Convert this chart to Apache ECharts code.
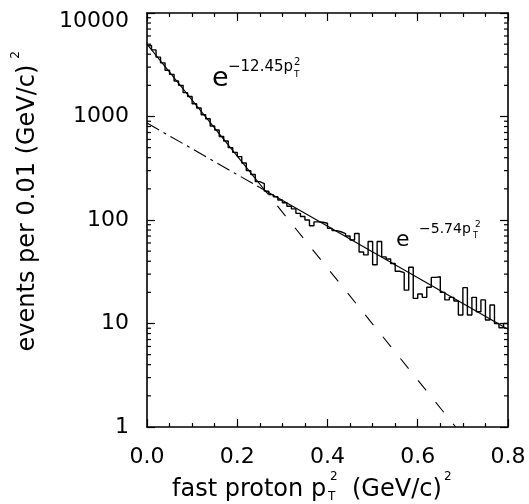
<!DOCTYPE html>
<html>
<head>
<meta charset="utf-8">
<script src="https://cdn.jsdelivr.net/npm/echarts@6/dist/echarts.min.js"></script>
<style>
html,body{margin:0;padding:0;background:#fff;}
#chart{width:529px;height:504px;}
</style>
</head>
<body>
<div id="chart"></div>
<script>
// ---- data ----
const binWidth = 0.01;
const counts = [
  4850, 4400, 3750, 3300, 2800, 2550, 2200, 2000, 1700, 1560,
  1330, 1210, 1040, 950, 810, 740, 640, 580, 500, 450,
  410, 355, 300, 275, 235, 225, 190, 176, 168, 156,
  147, 136, 128, 116, 108, 100, 88, 96, 95, 93,
  83, 79, 77, 74, 70, 64, 74, 49, 46, 62,
  37, 62, 44, 42, 38, 32, 31, 21, 35, 17.5,
  19.3, 17.9, 22.4, 27.9, 28.3, 20, 16.9, 17.9, 16.5, 12.1,
  22.2, 12.1, 17.9, 13, 16.9, 10.8, 15.1, 10, 9.1, 10
];
const xTickValues = [0.0, 0.2, 0.4, 0.6, 0.8];
const yTickLabels = ['1', '10', '100', '1000', '10000'];
const yMinorTicks = [2,3,4,5,6,7,8,9,20,30,40,50,60,70,80,90,200,300,400,500,600,700,800,900,2000,3000,4000,5000,6000,7000,8000,9000];
// fit lines (endpoints)
const steepFitSolid = [[0, 5000], [0.25, 222]];
const steepFitDashed = [[0.25, 222], [0.684, 1]];
const flatFitDashDot = [[0, 865], [0.25, 206]];
const flatFitSolid = [[0.25, 206], [0.8, 8.8]];

// ---- build ----
const histPts = [];
counts.forEach((c, i) => {
  histPts.push([i * binWidth, c]);
  histPts.push([(i + 1) * binWidth, c]);
});

const FONT = 'DejaVu Sans';
const chart = echarts.init(document.getElementById('chart'), null, {renderer: 'canvas'});

const commonX = {
  type: 'value', min: 0, max: 0.8, interval: 0.2,
  axisLine: {show: true, onZero: false, lineStyle: {color: '#000', width: 1.6}},
  axisTick: {show: true, inside: true, length: 8, lineStyle: {color: '#000', width: 1.2}},
  minorTick: {show: true, splitNumber: 4, length: 4, lineStyle: {color: '#000', width: 1.2}},
  splitLine: {show: false}, minorSplitLine: {show: false}
};
const commonY = {
  type: 'log', logBase: 10, min: 1, max: 10000,
  axisLine: {show: true, onZero: false, lineStyle: {color: '#000', width: 1.6}},
  axisTick: {show: true, inside: true, length: 8, lineStyle: {color: '#000', width: 1.2}},
  splitLine: {show: false}
};

function txt(text, x, y, size) {
  return {
    type: 'text', x: x, y: y, z: 100,
    style: {text: text, fill: '#000', font: size + 'px "' + FONT + '"', align: 'left', verticalAlign: 'middle'}
  };
}

chart.setOption({
  animation: false,
  backgroundColor: '#fff',
  grid: {left: 147, top: 13, width: 361, height: 414, containLabel: false},
  xAxis: [
    Object.assign({}, commonX, {
      position: 'bottom',
      axisLabel: {show: true, margin: 19, color: '#000', fontFamily: FONT, fontSize: 22,
        formatter: v => v.toFixed(1)}
    }),
    Object.assign({}, commonX, {position: 'top', axisLabel: {show: false}})
  ],
  yAxis: [
    Object.assign({}, commonY, {
      position: 'left',
      axisLabel: {show: true, margin: 18, color: '#000', fontFamily: FONT, fontSize: 22,
        formatter: v => {
          const k = Math.round(Math.log10(v));
          return k === 4 ? '{top|' + yTickLabels[k] + '}' : yTickLabels[k];
        },
        rich: {top: {fontFamily: FONT, fontSize: 22, color: '#000', padding: [16, 0, 0, 0]}}
      }
    }),
    Object.assign({}, commonY, {position: 'right', axisLabel: {show: false}})
  ],
  series: [
    {
      type: 'line', data: histPts, showSymbol: false, symbol: 'none',
      lineStyle: {color: '#000', width: 1.4}, z: 3
    },
    {type: 'line', data: steepFitSolid, symbol: 'none', lineStyle: {color: '#000', width: 1.1}},
    {type: 'line', data: steepFitDashed, symbol: 'none', lineStyle: {color: '#000', width: 1.1, type: [13, 15]}},
    {type: 'line', data: flatFitDashDot, symbol: 'none', lineStyle: {color: '#000', width: 1.1, type: [14, 5, 3, 5]}},
    {type: 'line', data: flatFitSolid, symbol: 'none', lineStyle: {color: '#000', width: 1.1}},
    {
      type: 'custom', coordinateSystem: 'cartesian2d', clip: false,
      data: yMinorTicks.map(v => [0, v]),
      renderItem: function (params, api) {
        const v = api.value(1);
        const l = api.coord([0, v]);
        const r = api.coord([0.8, v]);
        return {
          type: 'group', children: [
            {type: 'line', shape: {x1: l[0], y1: l[1], x2: l[0] + 4, y2: l[1]}, style: {stroke: '#000', lineWidth: 1.2}},
            {type: 'line', shape: {x1: r[0], y1: r[1], x2: r[0] - 4, y2: r[1]}, style: {stroke: '#000', lineWidth: 1.2}}
          ]
        };
      }
    }
  ],
  graphic: [
    // annotation 1
    txt('e', 212, 79, 27),
    txt('\u221212.45p', 228, 67, 15),
    txt('T', 294, 75, 9),
    txt('2', 294, 62, 10),
    // annotation 2
    txt('e', 396, 240, 22),
    txt('\u22125.74p', 419, 229, 14),
    txt('T', 473, 236, 8),
    txt('2', 475, 225, 9),
    // x title
    txt('fast proton p', 172, 490, 24),
    txt('T', 328, 497, 12),
    txt('2', 330, 477, 12),
    txt('(GeV/c)', 352, 490, 24),
    txt('2', 444, 477, 12),
    // y title
    {
      type: 'text', x: 28, y: 208, rotation: Math.PI / 2, z: 100,
      style: {text: 'events per 0.01 (GeV/c)', fill: '#000', font: '24px "' + FONT + '"', align: 'center', verticalAlign: 'middle'}
    },
    {
      type: 'text', x: 16, y: 55, rotation: Math.PI / 2, z: 100,
      style: {text: '2', fill: '#000', font: '12px "' + FONT + '"', align: 'center', verticalAlign: 'middle'}
    }
  ]
});
</script>
</body>
</html>
